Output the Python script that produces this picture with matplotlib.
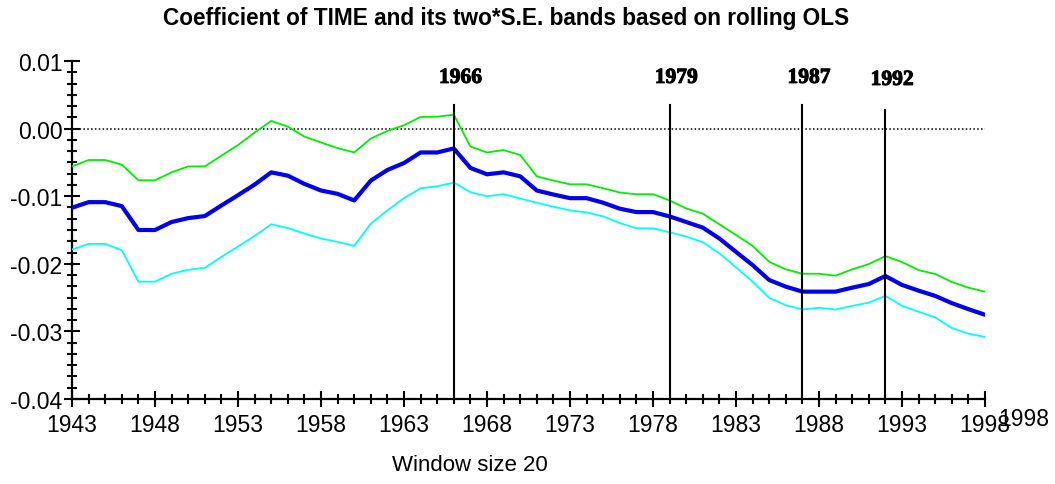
# Rolling OLS coefficient of TIME with +/- 2*S.E. bands
import matplotlib.pyplot as plt
import matplotlib.patheffects as pe
from matplotlib.ticker import MultipleLocator, FixedLocator, FuncFormatter
import numpy as np

# Data
years = np.arange(1943, 1999)

coef = [-0.01171, -0.01088, -0.01088, -0.01147, -0.01500, -0.01500, -0.01382, -0.01324,
        -0.01294, -0.01137, -0.00985, -0.00828, -0.00647, -0.00696, -0.00818, -0.00916,
        -0.00965, -0.01063, -0.00769, -0.00612, -0.00509, -0.00353, -0.00353, -0.00294,
        -0.00582, -0.00676, -0.00647, -0.00706, -0.00916, -0.00975, -0.01029, -0.01029,
        -0.01097, -0.01185, -0.01235, -0.01235, -0.01299, -0.01382, -0.01465, -0.01626,
        -0.01824, -0.02019, -0.02240, -0.02338, -0.02412, -0.02412, -0.02412, -0.02353,
        -0.02299, -0.02181, -0.02313, -0.02397, -0.02475, -0.02582, -0.02671, -0.02754]

upper = [-0.00559, -0.00465, -0.00465, -0.00534, -0.00765, -0.00765, -0.00647, -0.00559,
         -0.00559, -0.00400, -0.00244, -0.00059, 0.00113, 0.00029, -0.00118, -0.00206,
         -0.00288, -0.00353, -0.00147, -0.00034, 0.00050, 0.00172, 0.00176, 0.00206,
         -0.00265, -0.00353, -0.00318, -0.00391, -0.00706, -0.00769, -0.00824, -0.00824,
         -0.00882, -0.00946, -0.00971, -0.00971, -0.01063, -0.01181, -0.01259, -0.01416,
         -0.01574, -0.01735, -0.01971, -0.02082, -0.02147, -0.02147, -0.02176, -0.02082,
         -0.02004, -0.01887, -0.01975, -0.02093, -0.02151, -0.02269, -0.02353, -0.02412]

lower = [-0.01788, -0.01706, -0.01706, -0.01799, -0.02264, -0.02264, -0.02147, -0.02088,
         -0.02059, -0.01897, -0.01744, -0.01588, -0.01416, -0.01471, -0.01553, -0.01626,
         -0.01676, -0.01735, -0.01406, -0.01210, -0.01029, -0.00882, -0.00853, -0.00799,
         -0.00941, -0.01000, -0.00970, -0.01034, -0.01097, -0.01156, -0.01210, -0.01240,
         -0.01299, -0.01397, -0.01475, -0.01475, -0.01534, -0.01597, -0.01681, -0.01847,
         -0.02053, -0.02265, -0.02504, -0.02612, -0.02676, -0.02651, -0.02676, -0.02622,
         -0.02574, -0.02475, -0.02622, -0.02710, -0.02794, -0.02950, -0.03034, -0.03082]

break_years = [1966, 1979, 1987, 1992]
break_tops = [0.0035, 0.0035, 0.0035, 0.0028]
break_label_y = [0.0075, 0.0075, 0.0075, 0.0072]

x_ticks = [1943, 1948, 1953, 1958, 1963, 1968, 1973, 1978, 1983, 1988, 1993, 1998]
y_ticks = [-0.04, -0.03, -0.02, -0.01, 0.00, 0.01]

#---------------------------------------------------------------------------------------------
plt.rcParams['font.family'] = 'Liberation Sans'

fig = plt.figure(figsize=(10.55, 4.85), dpi=100)
ax = fig.add_axes([72/1055, 1 - 400/485, 913/1055, 338/485])

ax.plot(years, upper, color='#00ee00', linewidth=1.3, zorder=3)
ax.plot(years, lower, color='#00ffff', linewidth=1.3, zorder=3)
ax.plot(years, coef, color='#0000ee', linewidth=3.0, zorder=4)

# zero reference line
ax.axhline(0.0, color='black', linestyle=(0, (1, 1.5)), linewidth=1.1, zorder=2)

# break lines with labels
for yr, top, ly in zip(break_years, break_tops, break_label_y):
    ax.plot([yr, yr], [-0.04, top], color='black', linewidth=1.5, zorder=5)
    ax.text(yr + 0.4, ly, str(yr), ha='center', va='center', fontsize=15.5,
            fontweight='bold', family='Liberation Serif', zorder=6,
            path_effects=[pe.withStroke(linewidth=0.7, foreground='black')])

ax.set_xlim(1943, 1998)
ax.set_ylim(-0.04, 0.01)

for s in ['top', 'right']:
    ax.spines[s].set_visible(False)
for s in ['left', 'bottom']:
    ax.spines[s].set_linewidth(1.6)

ax.xaxis.set_major_locator(FixedLocator(x_ticks))
ax.xaxis.set_minor_locator(MultipleLocator(1))
ax.yaxis.set_major_locator(FixedLocator(y_ticks))
ax.yaxis.set_minor_locator(MultipleLocator(0.01 / 6))
ax.yaxis.set_major_formatter(FuncFormatter(lambda v, p: ('%.2f' % v).replace('-0.00', '0.00')))

ax.tick_params(which='major', direction='inout', length=12, width=1.5, labelsize=16.5,
               color='black')
ax.tick_params(which='minor', direction='inout', length=7, width=1.5)
ax.tick_params(axis='y', which='major', pad=1)
ax.tick_params(axis='x', which='major', pad=4)

# second end label, as in the original
fig.text(1024/1055, 1 - 420/485, '1998', ha='center', va='center', fontsize=16.5)

fig.text(506/1055, 1 - 18/485, 'Coefficient of TIME and its two*S.E. bands based on rolling OLS',
         ha='center', va='center', fontsize=16.3, fontweight='bold')
fig.text(470/1055, 1 - 466/485, 'Window size 20', ha='center', va='center', fontsize=16)

plt.savefig('out.png', dpi=100, facecolor='white')
